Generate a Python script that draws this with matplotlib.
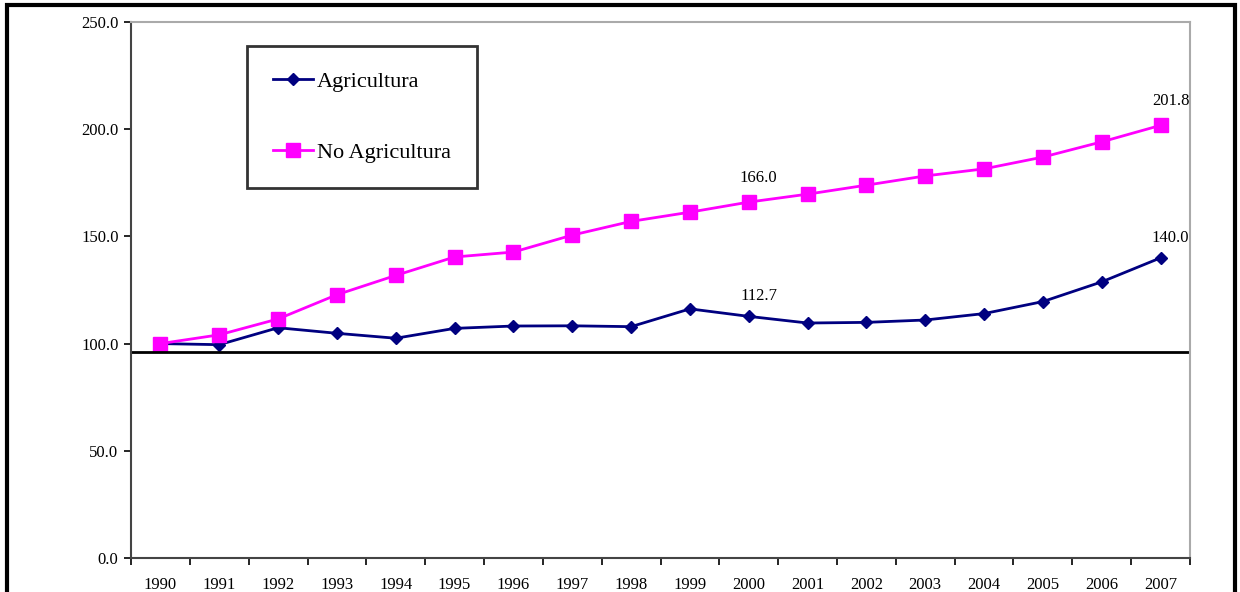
import matplotlib
matplotlib.use("Agg")
import matplotlib.pyplot as plt
from matplotlib.patches import Rectangle
from matplotlib.ticker import FixedLocator, FormatStrFormatter

plt.rcParams['font.family'] = ['Liberation Serif', 'DejaVu Serif']

years = [str(y) for y in range(1990, 2008)]
agricultura = [100.0, 99.5, 107.4, 104.8, 102.5, 107.1, 108.2, 108.3, 107.9, 116.2,
               112.7, 109.6, 109.9, 111.0, 114.0, 119.6, 128.8, 140.0]
no_agricultura = [100.0, 104.1, 111.5, 122.8, 131.8, 140.4, 142.7, 150.6, 157.0, 161.3,
                  166.0, 169.7, 173.9, 178.2, 181.5, 187.0, 194.1, 201.8]
labels_agri = {10: "112.7", 17: "140.0"}
labels_no_agri = {10: "166.0", 17: "201.8"}
base_line = 96.3

fig = plt.figure(figsize=(12.4, 5.92), dpi=100)
ax = fig.add_axes([131 / 1240, 1 - 558 / 592, (1190 - 131) / 1240, (558 - 22) / 592])

x = list(range(len(years)))
ax.plot(x, agricultura, color='#000080', lw=2, marker='D', markersize=6,
        label='Agricultura')
ax.plot(x, no_agricultura, color='#ff00ff', lw=2, marker='s', markersize=10,
        label='No Agricultura')

for i, txt in labels_agri.items():
    ax.annotate(txt, (x[i], agricultura[i]), textcoords='offset pixels',
                xytext=(10, 20), ha='center', va='center', fontsize=12)
for i, txt in labels_no_agri.items():
    ax.annotate(txt, (x[i], no_agricultura[i]), textcoords='offset pixels',
                xytext=(10, 24), ha='center', va='center', fontsize=12)

ax.axhline(base_line, color='black', lw=2)

ax.set_xlim(-0.5, len(years) - 0.5)
ax.set_ylim(0, 250)
ax.set_xticks(x)
ax.set_xticklabels(years, fontsize=12)
ax.xaxis.set_minor_locator(FixedLocator([i - 0.5 for i in range(len(years) + 1)]))
ax.tick_params(axis='x', which='major', length=0, pad=14)
ax.tick_params(axis='x', which='minor', length=5, width=1.2, direction='out')
ax.set_yticks([0, 50, 100, 150, 200, 250])
ax.yaxis.set_major_formatter(FormatStrFormatter('%.1f'))
ax.tick_params(axis='y', length=5, width=1.2, direction='out', labelsize=12, pad=4)

for side in ['left', 'bottom']:
    ax.spines[side].set_color('#444444')
    ax.spines[side].set_linewidth(1.5)
for side in ['top', 'right']:
    ax.spines[side].set_color('#aaaaaa')
    ax.spines[side].set_linewidth(1.5)

leg = ax.legend(loc='upper left', bbox_to_anchor=(0.1095, 0.955), borderaxespad=0,
                fontsize=16, frameon=True, fancybox=False, handlelength=1.8,
                handletextpad=0.2, labelspacing=2.25, borderpad=1.15)
leg.get_frame().set_edgecolor('black')
leg.get_frame().set_linewidth(2)

fig.patches.append(Rectangle((7 / 1240, -0.1), (1235 - 7) / 1240, 1.1 - 5 / 592,
                             transform=fig.transFigure, fill=False,
                             edgecolor='black', lw=3))

fig.savefig('out.png', dpi=100)
